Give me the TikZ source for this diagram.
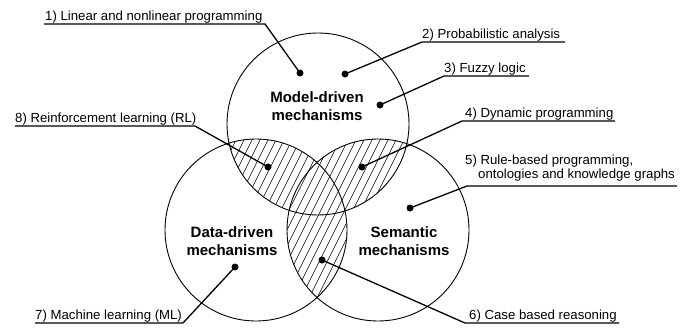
\documentclass[tikz,border=0pt]{standalone}
\usepackage{fontspec}
\setmainfont{Liberation Sans}
\newcommand\myhatch{\foreach \x in {-40,-32,...,520}{\draw[hatchline] (\x,340) -- (\x+170,0);}}
\begin{document}
\begin{tikzpicture}[x=1pt,y=-1pt,
  venn/.style={draw=black,line width=0.9pt},
  hatchline/.style={line width=0.6pt},
  leader/.style={line width=1.3pt,line join=round},
  dotmark/.style={circle,fill=black,inner sep=0pt,minimum size=7pt},
  lbl/.style={font=\fontsize{13.2}{15}\selectfont,inner sep=0pt,anchor=base west},
  title/.style={font=\fontsize{15}{18}\selectfont\bfseries,align=center,inner sep=0pt}]
\useasboundingbox (0,0) rectangle (687,327);
% circles
\coordinate (cM) at (318,124);
\coordinate (cD) at (256,230);
\coordinate (cS) at (378,230);
\def\R{91}
% hatching of the regions covered by at least two circles (each part once)
\begin{scope}
  \clip (cM) circle (\R);
  \clip (cD) circle (\R);
  \myhatch
\end{scope}
\begin{scope}[even odd rule]
  \clip (cM) circle (\R);
  \clip (cS) circle (\R);
  \clip (-10,-10) rectangle (700,340) (cD) circle (\R);
  \myhatch
\end{scope}
\begin{scope}[even odd rule]
  \clip (cD) circle (\R);
  \clip (cS) circle (\R);
  \clip (-10,-10) rectangle (700,340) (cM) circle (\R);
  \myhatch
\end{scope}
\draw[venn] (cM) circle (\R);
\draw[venn] (cD) circle (\R);
\draw[venn] (cS) circle (\R);
% titles
\node[title] (tM) at (317,106) {Model-driven\\mechanisms};
\node[title] (tD) at (232,241) {Data-driven\\mechanisms};
\node[title] (tS) at (404,241) {Semantic\\mechanisms};
% dots
\node[dotmark] (d1) at (300,73) {};
\node[dotmark] (d2) at (345,74) {};
\node[dotmark] (d3) at (380,105) {};
\node[dotmark] (d4) at (362,167) {};
\node[dotmark] (d5) at (410,208) {};
\node[dotmark] (d6) at (322,260) {};
\node[dotmark] (d7) at (235,267) {};
\node[dotmark] (d8) at (268,167) {};
% labels
\node[lbl] (l1) at (45,20.5) {1) Linear and nonlinear programming};
\node[lbl] (l2) at (422,38) {2) Probabilistic analysis};
\node[lbl] (l3) at (444,72) {3) Fuzzy logic};
\node[lbl] (l4) at (465,117) {4) Dynamic programming};
\node[lbl] (l5) at (465,164) {5) Rule-based programming,};
\node[lbl] (l5b) at (478,178) {ontologies and knowledge graphs};
\node[lbl] (l6) at (469,319) {6) Case based reasoning};
\node[lbl] (l7) at (35,319) {7) Machine learning (ML)};
\node[lbl] (l8) at (15,122) {8) Reinforcement learning (RL)};
% underline end points
\coordinate (u1a) at (44,24);  \coordinate (u1b) at (265,24);
\coordinate (u2a) at (422,42); \coordinate (u2b) at (565,42);
\coordinate (u3a) at (444,76); \coordinate (u3b) at (529,76);
\coordinate (u4a) at (462,121); \coordinate (u4b) at (615,121);
\coordinate (u5a) at (467,186); \coordinate (u5b) at (677,186);
\coordinate (u6a) at (465,323); \coordinate (u6b) at (619,323);
\coordinate (u7a) at (35,323); \coordinate (u7b) at (183,323);
\coordinate (u8a) at (15,126); \coordinate (u8b) at (195,126);
% leaders
\draw[leader] (d1.center) -- (u1b) -- (u1a);
\draw[leader] (d2.center) -- (u2a) -- (u2b);
\draw[leader] (d3.center) -- (u3a) -- (u3b);
\draw[leader] (d4.center) -- (u4a) -- (u4b);
\draw[leader] (d5.center) -- (u5a) -- (u5b);
\draw[leader] (d6.center) -- (u6a) -- (u6b);
\draw[leader] (d7.center) -- (u7b) -- (u7a);
\draw[leader] (d8.center) -- (u8b) -- (u8a);
\end{tikzpicture}
\end{document}
